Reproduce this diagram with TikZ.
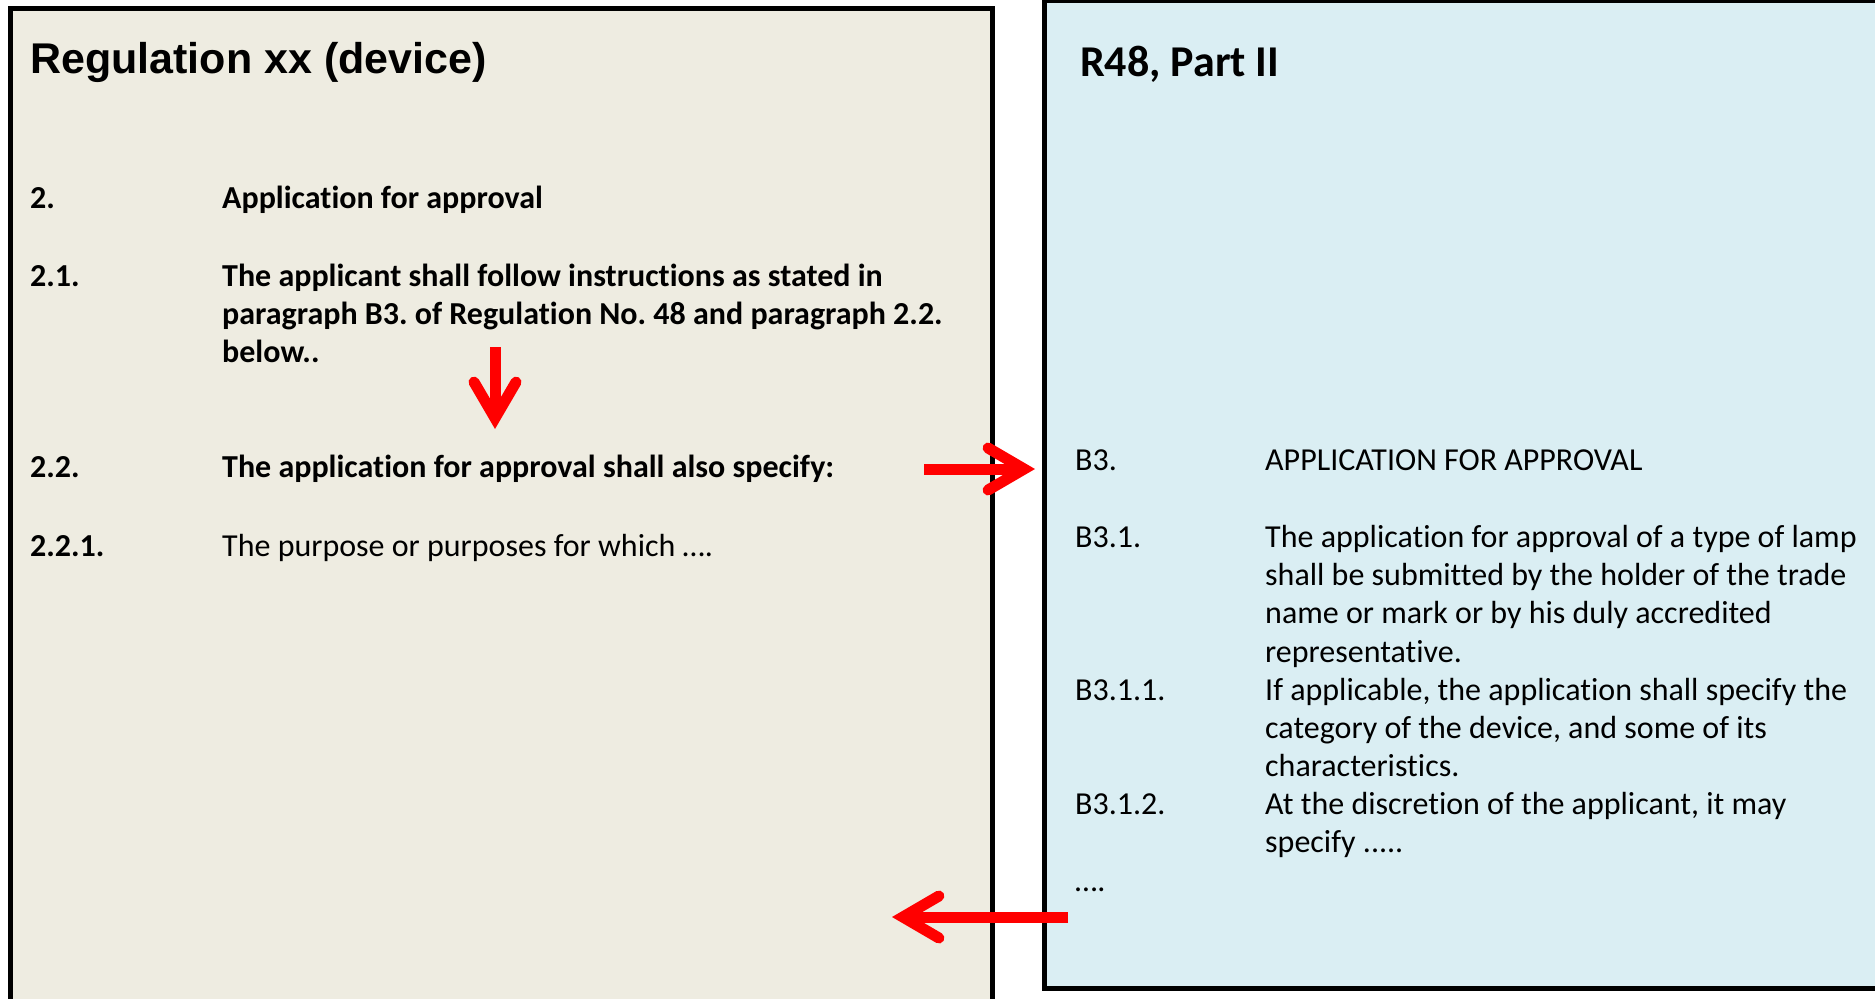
\documentclass[tikz,border=0pt]{standalone}
\usepackage{fontspec}
\setmainfont{Carlito}[Ligatures=NoCommon]
\newfontfamily\arialfont{Liberation Sans}
\usepackage{tikz}
\usetikzlibrary{arrows.meta,positioning}

\definecolor{regfill}{HTML}{EEECE1}
\definecolor{rfill}{HTML}{DAEEF3}
\definecolor{arrowred}{HTML}{FF0000}
\frenchspacing

\begin{document}
\begin{tikzpicture}[x=1pt,y=-1pt,
                    box/.style={draw=black,line width=5pt},
                    num/.style={inner sep=0pt,anchor=base west,font=\fontsize{32}{38.4}\selectfont},
                    para/.style={inner sep=0pt,anchor=base west,align=flush left,text width=640pt,
                                 font=\fontsize{32}{38.4}\selectfont},
                    link/.style={arrowred,line width=11pt,
                                 -{Straight Barb[length=36pt,width=42pt,line cap=round]}}]

  \clip (0,0) rectangle (1875,999);

  %Boxes%
  \fill[regfill] (10,8) rectangle (992,1020);
  \draw[box] (10,1020) -- (10,8) -- (992,8) -- (992,1020);
  \fill[rfill] (1044,0) rectangle (1900,988);
  \draw[box] (1044,-10) -- (1044,988) -- (1900,988);
  \draw[box] (1044,0) -- (1900,0);

  %Regulation xx%
  \node[inner sep=0pt,anchor=base west,font=\arialfont\bfseries\fontsize{43}{50}\selectfont]
    (reg) at (30,73) {Regulation xx (device)};
  \node[num,font=\bfseries\fontsize{32}{38.4}\selectfont] (2) at (30,208) {2.};
  \node[para,font=\bfseries\fontsize{32}{38.4}\selectfont] (2t) at (222,208) {Application for approval};
  \node[num,font=\bfseries\fontsize{32}{38.4}\selectfont] (21) at (30,286) {2.1.};
  \node[para,font=\bfseries\fontsize{32}{38.4}\selectfont,text width=760pt] (21t) at (222,286)
    {The applicant shall follow instructions as stated in\\
     paragraph B3. of Regulation No. 48 and paragraph 2.2.\\
     below..};
  \node[num,font=\bfseries\fontsize{32}{38.4}\selectfont] (22) at (30,477) {2.2.};
  \node[para,font=\bfseries\fontsize{32}{38.4}\selectfont] (22t) at (222,477)
    {The application for approval shall also specify:};
  \node[num,font=\bfseries\fontsize{32}{38.4}\selectfont] (221) at (30,556) {2.2.1.};
  \node[para] (221t) at (222,556) {The purpose or purposes for which ….};

  %R48%
  \node[inner sep=0pt,anchor=base west,font=\bfseries\fontsize{44}{50}\selectfont]
    (r48) at (1080,76) {R48, Part II};
  \node[num] (B3) at (1075,470) {B3.};
  \node[para] (B3t) at (1265,470) {APPLICATION FOR APPROVAL};
  \node[num] (B31) at (1075,547) {B3.1.};
  \node[para] (B31t) at (1265,547)
    {The application for approval of a type of lamp\\
     shall be submitted by the holder of the trade\\
     name or mark or by his duly accredited\\
     representative.};
  \node[num] (B311) at (1075,700) {B3.1.1.};
  \node[para] (B311t) at (1265,700)
    {If applicable, the application shall specify the\\
     category of the device, and some of its\\
     characteristics.};
  \node[num] (B312) at (1075,814) {B3.1.2.};
  \node[para] (B312t) at (1265,814)
    {At the discretion of the applicant, it may\\
     specify .....};
  \node[num] (etc) at (1075,891) {….};

  %Arrows%
  \coordinate (d1) at (495,347);
  \coordinate (d2) at (495,429);
  \coordinate (r1) at (924,469);
  \coordinate (r2) at (1035,469);
  \coordinate (l1) at (1068,917);
  \coordinate (l2) at (892,917);
  \draw[link] (d1) -- (d2);
  \draw[link] (r1) -- (r2);
  \draw[link] (l1) -- (l2);
\end{tikzpicture}
\end{document}
